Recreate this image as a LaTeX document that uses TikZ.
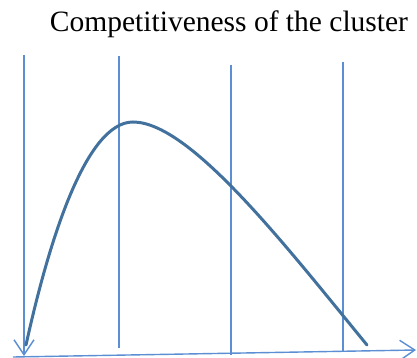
\documentclass[tikz,border=0pt]{standalone}
\usepackage{fontspec}
\setmainfont{Liberation Serif}
\usepackage{tikz}
\usetikzlibrary{arrows.meta}
\definecolor{ClusterLine}{HTML}{5B8ED3}
\definecolor{ClusterCurve}{HTML}{41719C}

\begin{document}
\begin{tikzpicture}[
  x=1pt,y=-1pt,
  axis/.style={draw=ClusterLine,line width=1.4pt,-{Straight Barb[length=15pt,width=20pt,line width=1.4pt]}},
  grid/.style={draw=ClusterLine,line width=1.4pt},
  curve/.style={draw=ClusterCurve,line width=3pt,line cap=round},
  title/.style={font=\fontsize{29.5}{34}\selectfont,inner sep=0pt}
]
  \useasboundingbox (0,0) rectangle (417,358);
  \node[title] (title) at (229,24) {Competitiveness of the cluster};
  % axes
  \coordinate (ytop) at (24,55);
  \coordinate (ybot) at (24,356);
  \coordinate (xleft) at (13,357);
  \coordinate (xright) at (416,350);
  \draw[axis] (ytop) -- (ybot);
  \draw[axis] (xleft) -- (xright);
  % stage borders
  \draw[grid] (119,56) -- (119,348);
  \draw[grid] (231,65) -- (231,355);
  \draw[grid] (343,62) -- (343,352);
  % life cycle curve
  \coordinate (start) at (26,345);
  \coordinate (peak) at (133,122);
  \coordinate (end) at (367,345);
  \draw[curve] (start) .. controls (48,245) and (85,122) .. (peak)
    .. controls (190,122) and (285,245) .. (end);
\end{tikzpicture}
\end{document}
